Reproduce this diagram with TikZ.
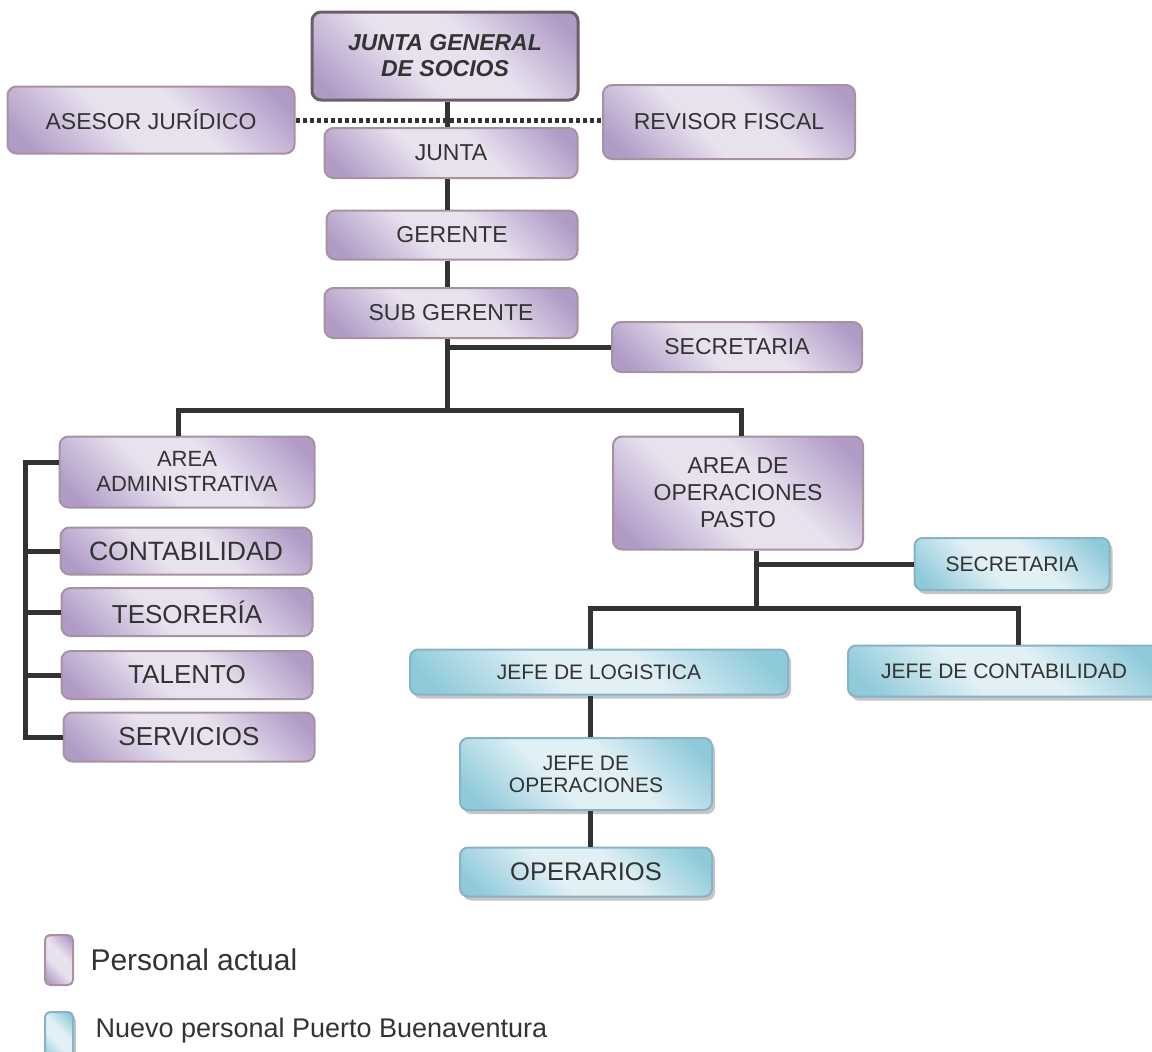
\documentclass[tikz,border=0pt]{standalone}
\usepackage{fontspec}
\setmainfont{Liberation Sans}
\usetikzlibrary{positioning,shadows}
\definecolor{plight}{HTML}{E8E1EE}
\definecolor{pdark}{HTML}{B09BC7}
\definecolor{pborder}{HTML}{A8929E}
\definecolor{blight}{HTML}{E0F0F5}
\definecolor{bdark}{HTML}{8FCADA}
\definecolor{bborder}{HTML}{88B2C6}
\definecolor{linkgray}{HTML}{333333}
\definecolor{txt}{HTML}{333333}
\pgfdeclarehorizontalshading{lavender}{100bp}{color(0bp)=(pdark); color(20bp)=(pdark);
  color(42bp)=(plight); color(58bp)=(plight); color(80bp)=(pdark); color(100bp)=(pdark)}
\pgfdeclarehorizontalshading{aqua}{100bp}{color(0bp)=(bdark); color(20bp)=(bdark);
  color(42bp)=(blight); color(58bp)=(blight); color(80bp)=(bdark); color(100bp)=(bdark)}
\newcommand{\fsz}[2]{\fontsize{#1}{#2}\selectfont}
\tikzset{
  boxsize/.style 2 args={minimum width=#1pt, minimum height=#2pt},
  oldbox/.style={rectangle, rounded corners=9pt, draw=pborder, line width=2pt,
    shading=lavender, shading angle=45,
    text=txt, inner sep=0pt, align=center, font=\fsz{23}{27}},
  newbox/.style={rectangle, rounded corners=8pt, draw=bborder, line width=2pt,
    shading=aqua, shading angle=45,
    drop shadow={shadow xshift=3pt, shadow yshift=-4pt, fill=gray!45, opacity=1},
    text=txt, inner sep=0pt, align=center, font=\fsz{21}{22}},
  link/.style={line width=5pt, draw=linkgray},
  dotlink/.style={line width=5pt, draw=linkgray, dash pattern=on 4pt off 3pt}
}

\begin{document}
\begin{tikzpicture}[x=1pt,y=-1pt]
  \useasboundingbox (0,0) rectangle (1152,1052);

  % personal actual
  \node[oldbox, boxsize={266}{88}, draw=pborder!65!black, line width=3pt,
        font=\fsz{23}{26}\bfseries\itshape] (jgs) at (445,56) {JUNTA GENERAL\\DE SOCIOS};
  \node[oldbox, boxsize={287}{67}] (ases) at (151,120) {ASESOR JURÍDICO};
  \node[oldbox, boxsize={252}{74}] (rev) at (729,122) {REVISOR FISCAL};
  \node[oldbox, boxsize={253}{50}] (junta) at (451,153) {JUNTA};
  \node[oldbox, boxsize={251}{49}] (ger) at (452,235) {GERENTE};
  \node[oldbox, boxsize={253}{50}] (sub) at (451,313) {SUB GERENTE};
  \node[oldbox, boxsize={250}{50}] (sec1) at (737,347) {SECRETARIA};
  \node[oldbox, boxsize={255}{71}, font=\fsz{22}{25}] (adm) at (187,472) {AREA\\ADMINISTRATIVA};
  \node[oldbox, boxsize={251}{47}, font=\fsz{26.5}{28}] (cont) at (186,551) {CONTABILIDAD};
  \node[oldbox, boxsize={251}{48}, font=\fsz{26}{28}] (teso) at (187,612) {TESORERÍA};
  \node[oldbox, boxsize={251}{48}, font=\fsz{26}{28}] (tal) at (187,675) {TALENTO};
  \node[oldbox, boxsize={251}{49}, font=\fsz{26}{28}] (serv) at (189,737) {SERVICIOS};
  \node[oldbox, boxsize={250}{113}] (ops) at (738,493) {AREA DE\\OPERACIONES\\PASTO};

  % nuevo personal
  \node[newbox, boxsize={195}{52}] (sec2) at (1012,564) {SECRETARIA};
  \node[newbox, boxsize={378}{45}] (log) at (599,672) {JEFE DE LOGISTICA};
  \node[newbox, boxsize={312}{51}] (jcont) at (1004,671) {JEFE DE CONTABILIDAD};
  \node[newbox, boxsize={252}{72}] (jops) at (586,774) {JEFE DE\\OPERACIONES};
  \node[newbox, boxsize={252}{49}, font=\fsz{25.5}{28}] (oper) at (586,872) {OPERARIOS};

  % conectores
  \coordinate (bar) at (447,410);
  \coordinate (lb) at (25,0);
  \coordinate (b2) at (756,608);
  \draw[dotlink] (ases.east) -- (ases.east -| rev.west);
  \draw[link] (bar |- jgs.south) -- (bar |- junta.north);
  \draw[link] (bar |- junta.south) -- (bar |- ger.north);
  \draw[link] (bar |- ger.south) -- (bar |- sub.north);
  \draw[link] (bar |- sub.south) -- (bar);
  \draw[link] ([xshift=2pt]bar |- sec1.west) -- (sec1.west);
  \draw[link] ([xshift=-9pt]adm.north) |- (bar) -| ([xshift=3pt]ops.north);
  \draw[link] ([yshift=10pt]adm.west) -| (lb |- serv.west) -- (serv.west);
  \foreach \n in {cont,teso,tal}
    \draw[link] (\n.west) -- (lb |- \n.west);
  \draw[link] (b2 |- ops.south) -- (b2);
  \draw[link] (b2 |- sec2.west) -- (sec2.west);
  \draw[link] ([xshift=-9pt]log.north) |- (b2) -| ([xshift=14pt]jcont.north);
  \draw[link] ([xshift=4pt]jops.north) -- ([xshift=4pt]jops.north |- log.south);
  \draw[link] ([xshift=4pt]oper.north) -- ([xshift=4pt]oper.north |- jops.south);

  % leyenda
  \node[oldbox, boxsize={28}{50}, rounded corners=5pt] (leg1) at (59,960) {};
  \node[anchor=west, text=txt, font=\fsz{30}{32}] (leg1t) at (87,960) {Personal actual};
  \node[newbox, boxsize={28}{50}, rounded corners=5pt] (leg2) at (59,1037) {};
  \node[anchor=west, text=txt, font=\fsz{27}{30}] (leg2t) at (92,1031) {Nuevo personal Puerto Buenaventura};
\end{tikzpicture}
\end{document}
